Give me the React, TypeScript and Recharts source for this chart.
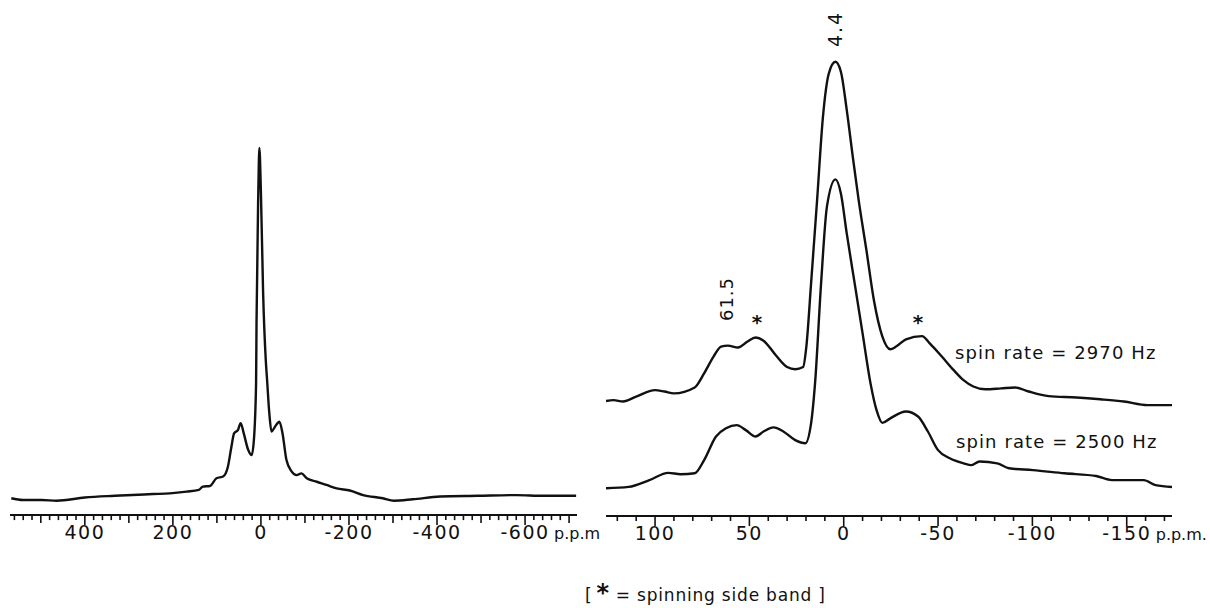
import React from "react";
import { LineChart, Line, XAxis, YAxis } from "recharts";

const FONT = "'DejaVu Sans', 'Noto Sans', sans-serif";
const INK = "#111";

// ---- Left panel: wide sweep spectrum (chemical shift in p.p.m., intensity in % of central peak)
const wideShift = [567, 541, 498, 464, 400, 332, 245, 207, 169, 141, 132, 116, 101, 86, 75, 67, 61, 52, 46, 39, 29, 21, 16, 11, 10, 6, 3.5, 0, -5, -11, -14, -19, -24, -32, -42, -49, -58, -70, -81, -92, -104, -127, -149, -172, -202, -232, -277, -302, -345, -407, -493, -581, -641, -716];
const wideIntensity = [0.2, -0.3, -0.3, -0.5, 0.4, 0.9, 1.4, 1.6, 2.1, 2.6, 3.5, 3.7, 5.9, 6.4, 9.2, 14.9, 18.7, 19.7, 21.6, 18.7, 14.0, 12.5, 16.8, 33.0, 50.0, 87.2, 100, 87.2, 58.7, 39.6, 33.9, 24.5, 19.2, 20.6, 22.0, 18.7, 11.1, 7.8, 6.8, 7.3, 5.9, 4.9, 4.0, 3.0, 2.4, 1.1, 0.2, -0.5, -0.1, 0.7, 0.9, 1.1, 0.9, 0.9];

// ---- Right panel: expanded spectra at two spinning rates (stacked display)
const fastShift = [126, 122, 117, 110, 100, 95, 90, 79, 74, 69, 65, 61.4, 56, 51, 46.7, 42.5, 36, 30, 25.7, 21.5, 19.8, 17.3, 14.1, 11, 7.9, 4.4, 1.5, -1.6, -4.8, -7.9, -12, -16, -20.5, -24.7, -27.8, -33, -41.5, -45.6, -52, -58.3, -63.5, -68.7, -75, -83.4, -90.8, -98, -108.6, -123.4, -136, -148.5, -161, -174];
const fastIntensity = [25.3, 25.5, 25.2, 26.3, 27.7, 27.4, 27.0, 28.3, 31.4, 35.1, 37.3, 37.5, 37.1, 38.4, 39.3, 38.6, 35.4, 32.8, 32.3, 32.8, 37.3, 51.2, 69.6, 87.9, 97.4, 100, 97.8, 89.4, 79.1, 69.6, 58.6, 47.5, 39.5, 36.7, 37.3, 38.9, 39.6, 38.0, 35.1, 32.1, 29.9, 28.5, 27.9, 28.1, 28.3, 27.4, 26.4, 26.1, 25.7, 25.2, 24.4, 24.4];

const slowShift = [126, 114, 103, 93, 86.5, 79, 74, 67.7, 62.4, 56.7, 51.9, 46.7, 42.5, 37.2, 32, 25.7, 20.4, 17.3, 15.2, 12, 8.9, 4.4, 1.5, -1.6, -5.8, -10, -14.2, -17.4, -20.5, -24.7, -33, -39.4, -44.6, -50, -56.2, -63.5, -67.7, -72, -81.4, -87.6, -100.3, -117, -133.8, -142.2, -159, -165.3, -174];
const slowIntensity = [6.1, 6.4, 7.9, 9.5, 9.2, 9.4, 12.3, 17.5, 19.3, 20.0, 18.9, 17.5, 18.6, 19.5, 18.6, 16.7, 16.0, 20.4, 29.2, 51.2, 68.1, 74.1, 71.0, 62.2, 51.2, 40.2, 29.2, 23.3, 20.5, 21.5, 23.0, 21.9, 18.6, 14.5, 12.7, 11.6, 11.2, 12.0, 11.6, 10.5, 10.1, 9.4, 8.8, 7.9, 7.9, 6.8, 6.4];

// ---- Axis ticks and labels
const wideLabels = [400, 200, 0, -200, -400, -600];
const narrowLabels = [100, 50, 0, -50, -100, -150];
const wideDomain = [-718, 570];
const narrowDomain = [-174, 126];

const seriesLabels = ["spin rate = 2970 Hz", "spin rate = 2500 Hz"];
const peakLabels = ["4.4", "61.5"];
const caption = "= spinning side band ]";

const toRows = (xs: number[], ys: number[]) => xs.map((x, i) => ({ ppm: x, v: ys[i] }));
const wideData = toRows(wideShift, wideIntensity);
const fastData = toRows(fastShift, fastIntensity);
const slowData = toRows(slowShift, slowIntensity);

const stepTicks = (from: number, to: number, step: number) => {
  const out: number[] = [];
  for (let t = from; t >= to; t -= step) out.push(t);
  return out;
};
const wideTicks = stepTicks(560, -700, 20);
const narrowTicks = stepTicks(120, -170, 10);

function makeTick(labels: number[], medium: number | null, unit: string, unitDx: number) {
  const last = labels[labels.length - 1];
  return (props: any) => {
    const { x, y, payload } = props;
    const v = payload.value as number;
    const isLabel = labels.includes(v);
    const isMedium = medium !== null && Math.abs(v % medium) < 1e-6;
    const len = isLabel ? 10 : isMedium ? 8 : 5;
    return (
      <g>
        <line x1={x} y1={y} x2={x} y2={y + len} stroke={INK} strokeWidth={1.6} />
        {isLabel && (
          <text x={x} y={y + 24} textAnchor="middle" fontSize={19} fontFamily={FONT} fill={INK} letterSpacing={1.5}>
            {String(v)}
          </text>
        )}
        {isLabel && v === last && (
          <text x={x + unitDx} y={y + 24} textAnchor="start" fontSize={16} fontFamily={FONT} fill={INK}>
            {unit}
          </text>
        )}
      </g>
    );
  };
}

export default function App() {
  return (
    <div style={{ position: "absolute", left: 0, top: 0, width: 1210, height: 608, background: "#fff", overflow: "hidden" }}>
      <div style={{ position: "absolute", left: 0, top: 0 }}>
        <LineChart width={600} height={608} margin={{ top: 112.9, right: 23, bottom: 52.9, left: 10 }}>
          <XAxis
            dataKey="ppm"
            type="number"
            domain={wideDomain}
            reversed
            allowDataOverflow
            ticks={wideTicks}
            interval={0}
            height={40}
            tickSize={0}
            tickMargin={0}
            tickLine={false}
            axisLine={{ stroke: INK, strokeWidth: 2 }}
            tick={makeTick(wideLabels, 100, "p.p.m", 29)}
          />
          <YAxis hide type="number" domain={[-4.6, 110]} allowDataOverflow />
          <Line data={wideData} dataKey="v" type="monotone" stroke={INK} strokeWidth={2.4} dot={false} isAnimationActive={false} />
        </LineChart>
      </div>
      <div style={{ position: "absolute", left: 590, top: 0 }}>
        <LineChart width={620} height={608} margin={{ top: 16.3, right: 38, bottom: 52, left: 16 }}>
          <XAxis
            dataKey="ppm"
            type="number"
            domain={narrowDomain}
            reversed
            allowDataOverflow
            ticks={narrowTicks}
            interval={0}
            height={40}
            tickSize={0}
            tickMargin={0}
            tickLine={false}
            axisLine={{ stroke: INK, strokeWidth: 2 }}
            tick={makeTick(narrowLabels, null, "p.p.m.", 29)}
          />
          <YAxis hide type="number" domain={[0, 110]} allowDataOverflow />
          <Line data={fastData} dataKey="v" type="monotone" stroke={INK} strokeWidth={2.4} dot={false} isAnimationActive={false} />
          <Line data={slowData} dataKey="v" type="monotone" stroke={INK} strokeWidth={2.4} dot={false} isAnimationActive={false} />
        </LineChart>
      </div>
      <svg width={1210} height={608} style={{ position: "absolute", left: 0, top: 0, pointerEvents: "none" }}>
        <g fontFamily={FONT} fill={INK}>
          <text x={835} y={29} fontSize={19} textAnchor="middle" dominantBaseline="central" letterSpacing={2} transform="rotate(-90 835 29)">
            {peakLabels[0]}
          </text>
          <text x={726} y={299} fontSize={18} textAnchor="middle" dominantBaseline="central" letterSpacing={1} transform="rotate(-90 726 299)">
            {peakLabels[1]}
          </text>
          <text x={757} y={329} fontSize={20} fontWeight="bold" textAnchor="middle">*</text>
          <text x={918} y={329} fontSize={20} fontWeight="bold" textAnchor="middle">*</text>
          <text x={955} y={359} fontSize={18} letterSpacing={1.1}>{seriesLabels[0]}</text>
          <text x={956} y={448} fontSize={18} letterSpacing={1.1}>{seriesLabels[1]}</text>
          <text x={585} y={601} fontSize={17} letterSpacing={0.8}>
            <tspan>[</tspan>
            <tspan fontSize={24} fontWeight="bold" dx={4}>*</tspan>
            <tspan dx={6}>{caption}</tspan>
          </text>
        </g>
      </svg>
    </div>
  );
}
